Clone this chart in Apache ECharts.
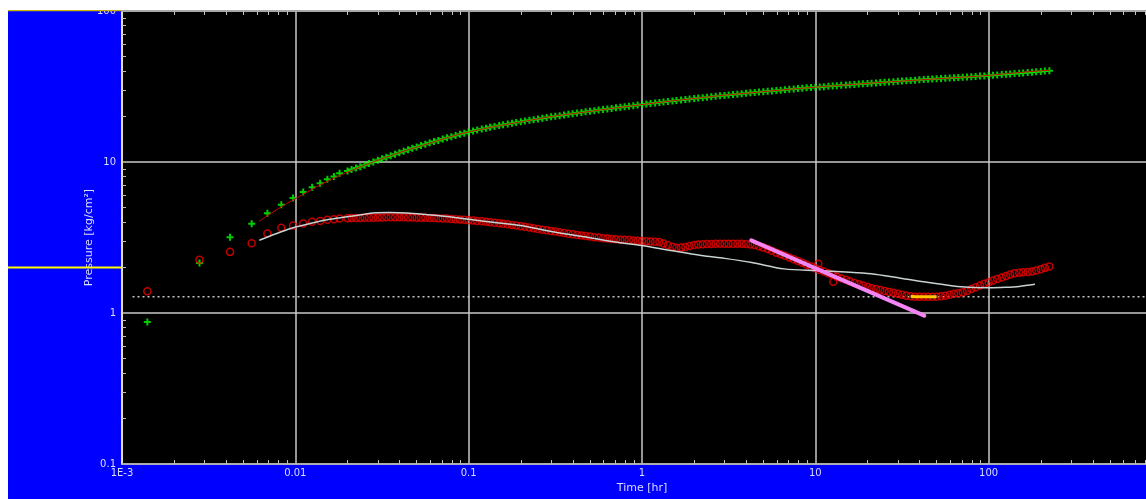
<!DOCTYPE html>
<html><head><meta charset="utf-8">
<script src="https://cdn.jsdelivr.net/npm/echarts@6/dist/echarts.min.js"></script>
<style>
html,body{margin:0;padding:0;background:#fff;width:1146px;height:499px;overflow:hidden;position:relative}
#c{position:absolute;left:8px;top:10px;width:1154px;height:489px}
</style></head><body><div id="c"></div>
<script>
// ---- data (time in hr, pressure in kg/cm2) ----
const time = [
 0.0014,0.0028,0.0042,0.0056,0.0069,0.0083,0.0097,0.0111,0.0125,0.0139,0.0153,0.0167,0.018,
 0.0200,0.0211,0.0224,0.0237,0.0251,0.0266,0.0282,0.0299,0.0316,0.0335,0.0355,0.0376,0.0398,0.0422,0.0447,0.0473,
 0.0501,0.0531,0.0562,0.0596,0.0631,0.0668,0.0708,0.0750,0.0794,0.0841,0.0891,0.0944,
 0.100,0.106,0.112,0.119,0.126,0.133,0.141,0.150,0.158,0.168,0.178,0.188,0.200,0.211,0.224,0.237,0.251,0.266,0.282,0.299,
 0.316,0.335,0.355,0.376,0.398,0.422,0.447,0.473,0.501,0.531,0.562,0.596,0.631,0.668,0.708,0.750,0.794,0.841,0.891,0.944,
 1.00,1.06,1.12,1.19,1.26,1.33,1.41,1.50,1.58,1.68,1.78,1.88,2.00,2.11,2.24,2.37,2.51,2.66,2.82,2.99,
 3.16,3.35,3.55,3.76,3.98,4.22,4.47,4.73,5.01,5.31,5.62,5.96,6.31,6.68,7.08,7.50,7.94,8.41,8.91,9.44,
 10.0,10.6,11.2,11.9,12.6,13.3,14.1,15.0,15.8,16.8,17.8,18.8,20.0,21.1,22.4,23.7,25.1,26.6,28.2,29.9,
 31.6,33.5,35.5,37.6,39.8,42.2,44.7,47.3,50.1,53.1,56.2,59.6,63.1,66.8,70.8,75.0,79.4,84.1,89.1,94.4,
 100,106,112,119,126,133,141,150,158,168,178,188,200,211,224];
const pressure = [
 0.871,2.145,3.18,3.90,4.57,5.22,5.78,6.34,6.81,7.24,7.70,8.03,8.41,
 8.73,8.93,9.12,9.31,9.53,9.77,10.0,10.26,10.52,10.76,11.02,11.27,11.53,11.80,12.05,12.33,
 12.59,12.85,13.12,13.40,13.65,13.90,14.19,14.45,14.72,15.00,15.24,15.52,
 15.78,16.03,16.26,16.52,16.75,16.98,17.18,17.42,17.62,17.82,18.03,18.24,18.45,18.66,18.88,19.05,19.28,19.50,19.68,19.91,
 20.09,20.28,20.51,20.70,20.89,21.09,21.28,21.48,21.68,21.88,22.08,22.23,22.44,22.65,22.86,23.01,23.23,23.44,23.60,23.82,
 23.99,24.21,24.38,24.60,24.77,24.95,25.18,25.35,25.53,25.70,25.94,26.12,26.30,26.49,26.67,26.85,27.04,27.23,27.42,27.61,
 27.80,27.99,28.12,28.31,28.51,28.71,28.84,29.04,29.24,29.38,29.58,29.72,29.92,30.06,30.27,30.41,30.62,30.76,30.97,31.12,
 31.26,31.41,31.55,31.70,31.84,31.99,32.21,32.36,32.51,32.66,32.81,32.96,33.11,33.27,33.42,33.57,33.73,33.88,34.04,34.20,
 34.36,34.51,34.67,34.83,34.99,35.16,35.32,35.40,35.56,35.73,35.89,35.97,36.14,36.31,36.48,36.56,36.73,36.90,37.07,37.15,
 37.33,37.50,37.67,37.93,38.11,38.28,38.55,38.73,38.90,39.08,39.36,39.54,39.72,39.99,40.27];
const derivative = [
 1.395,2.256,2.54,2.90,3.36,3.67,3.80,3.92,4.02,4.06,4.15,4.18,4.22,
 4.24,4.25,4.26,4.26,4.27,4.28,4.28,4.29,4.29,4.30,4.30,4.30,4.30,4.30,4.29,4.29,
 4.28,4.27,4.27,4.26,4.25,4.24,4.23,4.22,4.20,4.18,4.16,4.14,
 4.12,4.10,4.07,4.05,4.02,3.99,3.96,3.93,3.90,3.87,3.83,3.80,3.76,3.72,3.68,3.64,3.60,3.56,3.53,3.49,
 3.46,3.42,3.39,3.35,3.32,3.29,3.26,3.24,3.21,3.18,3.16,3.13,3.11,3.09,3.08,3.06,3.05,3.04,3.02,3.01,
 3.00,2.99,2.97,2.96,2.95,2.89,2.82,2.75,2.70,2.71,2.74,2.78,2.82,2.84,2.85,2.86,2.86,2.87,2.87,2.88,
 2.88,2.88,2.87,2.87,2.86,2.84,2.82,2.77,2.72,2.65,2.58,2.51,2.45,2.39,2.33,2.27,2.21,2.15,2.09,2.03,
 1.98,1.93,1.88,1.83,1.79,1.74,1.70,1.66,1.62,1.58,1.55,1.52,1.49,1.46,1.44,1.42,1.40,1.38,1.36,1.34,
 1.32,1.30,1.29,1.28,1.28,1.28,1.28,1.28,1.28,1.29,1.30,1.32,1.34,1.35,1.37,1.40,1.44,1.48,1.52,1.56,
 1.60,1.64,1.68,1.72,1.76,1.80,1.83,1.85,1.86,1.87,1.88,1.91,1.95,1.99,2.03];
const derivOutlierTime = [10.4, 12.7];
const derivOutlierValue = [2.12, 1.61];

const modelPTime = [0.0062,0.0083,0.0097,0.0125,0.0153,0.0194,0.025,0.033,0.044,0.058,0.077,0.1,0.15,0.21,0.3,0.44,0.64,1.0,1.5,2.1,3.0,4.4,6.4,10,15,21,30,44,64,93,130,180,225];
const modelP = [4.06,5.05,5.6,6.6,7.45,8.45,9.5,10.7,11.97,13.2,14.6,15.8,17.4,18.6,20.0,21.2,22.5,24.0,25.4,26.5,27.7,28.8,30.0,31.3,32.4,33.3,34.2,35.2,36.2,37.2,38.5,39.8,40.5];

const modelDTime = [0.0062,0.0083,0.0097,0.0125,0.0153,0.0194,0.025,0.028,0.035,0.044,0.058,0.07,0.085,0.1,0.15,0.2,0.3,0.5,0.7,1.0,1.5,2.2,3.0,4.3,6.6,10.2,15,21,31,45,66,100,125,150,185];
const modelD = [3.03,3.45,3.67,3.95,4.15,4.32,4.5,4.6,4.63,4.6,4.48,4.39,4.28,4.17,3.95,3.8,3.47,3.15,2.95,2.8,2.58,2.40,2.3,2.16,1.96,1.91,1.87,1.82,1.70,1.59,1.50,1.47,1.48,1.50,1.55];

const selTime = [35.5, 37.6, 39.8, 42.2, 44.7, 47.3, 50.1];
const selValue = [1.29, 1.28, 1.28, 1.28, 1.28, 1.28, 1.28];

const slopeTime = [4.27, 42.5];
const slopeValue = [3.03, 0.96];

const levelTime = [0.00115, 1000];
const levelValue = [1.28, 1.28];

const xTickValues = [0.001, 0.01, 0.1, 1, 10, 100, 1000];
const xTickLabels = ['1E-3', '0.01', '0.1', '1', '10', '100', '1000'];
const yTickValues = [0.1, 1, 10, 100];
const yTickLabels = ['0.1', '1', '10', '100'];
const cursorValue = 2.0;

// ---- helpers ----
function pairs(xs, ys){ return xs.map((x,i)=>[x, ys[i]]); }
function labelFor(vals, labs){
  return function(v){
    for (let i=0;i<vals.length;i++){ if (Math.abs(v/vals[i]-1) < 1e-6) return labs[i]; }
    return '';
  };
}
function minorTicks(lo, hi){
  const out=[];
  for (let d=lo; d<hi*0.999; d*=10){ for(let k=2;k<=9;k++) out.push(+(k*d).toPrecision(3)); }
  return out;
}
const minorX = minorTicks(0.001, 1000);
const minorY = minorTicks(0.1, 100);

const txt = '#dcdcff';
const font = 'DejaVu Sans';
const plus = 'path://M0,2.5H2.5V0H4.5V2.5H7V4.5H4.5V7H2.5V4.5H0Z';

const xBase = {type:'log', logBase:10, min:0.001, max:1000, gridIndex:0};
const yBase = {type:'log', logBase:10, min:0.1, max:100, gridIndex:0};

const chart = echarts.init(document.getElementById('c'));
chart.setOption({
  animation:false,
  backgroundColor:'#0000ff',
  grid:{left:114, right:0, top:1, bottom:35, show:true, backgroundColor:'#000000', borderWidth:0,
        containLabel:false, outerBoundsMode:'none'},
  xAxis:[
    Object.assign({}, xBase, {
      position:'bottom', splitNumber:6,
      name:'Time [hr]', nameLocation:'middle', nameGap:19, nameMoveOverlap:false,
      nameTextStyle:{color:txt, fontSize:11, fontFamily:font},
      axisLine:{show:true, lineStyle:{color:'#b4b4b4', width:1.5}},
      axisTick:{show:false},
      axisLabel:{color:txt, fontSize:10, fontFamily:font, margin:4, formatter:labelFor(xTickValues, xTickLabels), showMinLabel:true, showMaxLabel:true, hideOverlap:false},
      splitLine:{show:true, lineStyle:{color:'#c8c8c8', width:1.5}}
    }),
    Object.assign({}, xBase, {
      position:'bottom',
      axisLine:{show:false},
      axisTick:{show:true, inside:true, length:4, customValues:minorX, lineStyle:{color:'#c0c0c0', width:1}},
      axisLabel:{show:false}, splitLine:{show:false}
    }),
    Object.assign({}, xBase, {
      position:'top',
      axisLine:{show:true, lineStyle:{color:'#a8a8a8', width:2}},
      axisTick:{show:true, inside:true, length:4, customValues:minorX, lineStyle:{color:'#c0c0c0', width:1}},
      axisLabel:{show:false}, splitLine:{show:false}
    })
  ],
  yAxis:[
    Object.assign({}, yBase, {
      position:'left', splitNumber:3,
      name:'Pressure [kg/cm²]', nameLocation:'middle', nameGap:27, nameRotate:90, nameMoveOverlap:false,
      nameTextStyle:{color:txt, fontSize:11, fontFamily:font},
      axisLine:{show:true, lineStyle:{color:'#e6dfa8', width:2}},
      axisTick:{show:false},
      axisLabel:{color:txt, fontSize:10, fontFamily:font, margin:6, formatter:labelFor(yTickValues, yTickLabels), showMinLabel:true, showMaxLabel:true, hideOverlap:false},
      splitLine:{show:true, lineStyle:{color:'#c8c8c8', width:1.5}}
    }),
    Object.assign({}, yBase, {
      position:'left',
      axisLine:{show:false},
      axisTick:{show:true, inside:true, length:4, customValues:minorY, lineStyle:{color:'#c0c0c0', width:1}},
      axisLabel:{show:false}, splitLine:{show:false}
    })
  ],
  series:[
    {type:'line', data:pairs(levelTime, levelValue), symbol:'none', silent:true,
     lineStyle:{color:'#c8c8c8', width:1.5, type:[2,3]}, z:1},
    {type:'scatter', name:'Pressure', data:pairs(time, pressure), symbol:plus, symbolSize:7,
     itemStyle:{color:'#00ff00'}, z:2},
    {type:'scatter', name:'Derivative', data:pairs(time, derivative).concat(pairs(derivOutlierTime, derivOutlierValue)),
     symbol:'circle', symbolSize:7,
     itemStyle:{color:'rgba(0,0,0,0)', borderColor:'#f00000', borderWidth:1.5}, z:3},
    {type:'line', name:'Model pressure', data:pairs(modelPTime, modelP), symbol:'none', smooth:0.3,
     lineStyle:{color:'#d00000', width:1}, z:4},
    {type:'line', name:'Model derivative', data:pairs(modelDTime, modelD), symbol:'none', smooth:0.3,
     lineStyle:{color:'#c8d2d2', width:1.5}, z:4},
    {type:'line', name:'Selection', data:pairs(selTime, selValue), symbol:'none',
     lineStyle:{color:'#ffc800', width:3}, z:5},
    {type:'line', name:'Slope', data:pairs(slopeTime, slopeValue), symbol:'none',
     lineStyle:{color:'#f585f5', width:4, cap:'round'}, z:6}
  ]
});

// decorations: yellow cursor marker on the pressure axis, yellow top edge over the label band
const cy = chart.convertToPixel({yAxisIndex:0}, cursorValue);
chart.setOption({graphic:[
  {type:'line', shape:{x1:0, y1:cy, x2:113, y2:cy}, style:{stroke:'#ffff00', lineWidth:2}, silent:true, z:100},
  {type:'line', shape:{x1:0, y1:0.5, x2:114, y2:0.5}, style:{stroke:'#c8b400', lineWidth:1.5}, silent:true, z:100}
]});
</script></body></html>
